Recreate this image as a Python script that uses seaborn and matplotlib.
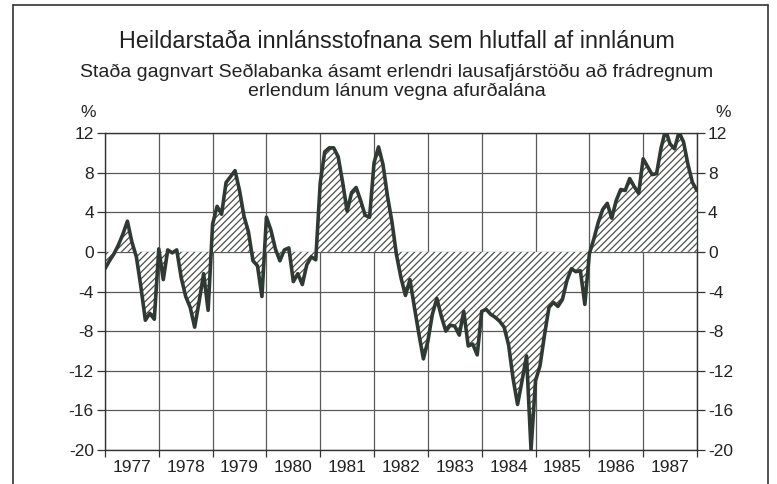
import numpy as np
import pandas as pd
import seaborn as sns
import matplotlib.pyplot as plt
from matplotlib.lines import Line2D

# monthly values, % of deposits
years = list(range(1977, 1988))
v1977 = [-1.7, -0.9, -0.2, 0.7, 1.8, 3.1, 1.0, -0.5, -3.5, -6.9, -6.2, -6.8]
v1978 = [0.3, -2.8, 0.2, -0.1, 0.2, -2.6, -4.5, -5.6, -7.6, -5.0, -2.2, -5.9]
v1979 = [2.8, 4.6, 3.8, 7.0, 7.6, 8.2, 6.2, 3.6, 2.0, -0.9, -1.4, -4.5]
v1980 = [3.5, 2.2, 0.3, -0.9, 0.2, 0.4, -3.0, -2.2, -3.3, -1.3, -0.5, -0.8]
v1981 = [7.0, 10.1, 10.5, 10.5, 9.6, 7.0, 4.1, 6.0, 6.5, 5.2, 3.7, 3.5]
v1982 = [9.0, 10.6, 8.8, 5.6, 3.0, -0.3, -2.6, -4.4, -2.8, -5.6, -8.3, -10.8]
v1983 = [-9.0, -6.3, -4.7, -6.5, -8.0, -7.4, -7.5, -8.4, -6.0, -9.5, -9.3, -10.4]
v1984 = [-6.0, -5.8, -6.3, -6.6, -7.0, -7.6, -9.4, -12.8, -15.4, -13.0, -10.5, -20.0]
v1985 = [-13.0, -11.5, -8.4, -5.6, -5.1, -5.5, -4.8, -2.9, -1.7, -2.0, -1.9, -5.3]
v1986 = [-0.2, 1.3, 3.0, 4.3, 4.9, 3.4, 5.2, 6.3, 6.2, 7.4, 6.6, 5.9]
v1987 = [9.4, 8.6, 7.8, 7.9, 10.5, 12.3, 10.9, 10.4, 12.1, 11.1, 8.8, 7.0, 6.2]

values = v1977 + v1978 + v1979 + v1980 + v1981 + v1982 + v1983 + v1984 + v1985 + v1986 + v1987
df = pd.DataFrame({'ar': 1977 + np.arange(len(values)) / 12, 'hlutfall': values})

title = 'Heildarstaða innlánsstofnana sem hlutfall af innlánum'
subtitle = ('Staða gagnvart Seðlabanka ásamt erlendri lausafjárstöðu að frádregnum\n'
            'erlendum lánum vegna afurðalána')

sns.set_style('white')
plt.rcParams['font.family'] = ['Liberation Sans', 'DejaVu Sans']
plt.rcParams['axes.unicode_minus'] = False
plt.rcParams['hatch.linewidth'] = 0.9

grid_col = '#5a5a5a'
line_col = '#2f3a35'
text_col = '#222222'

fig = plt.figure(figsize=(7.77, 4.84), dpi=100)
ax = fig.add_axes([0.1351, 0.0702, 0.7619, 0.655])

ax.fill_between(df['ar'], df['hlutfall'], 0, facecolor='white', edgecolor='#4a4f4c',
                hatch='/////', linewidth=0, zorder=2)
sns.lineplot(data=df, x='ar', y='hlutfall', color=line_col, lw=2.6, ax=ax, zorder=3)

ax.set_xlim(1977, 1988)
ax.set_ylim(-20, 12)
ax.set_yticks(range(-20, 13, 4))
ax.set_xticks(range(1977, 1989))
ax.set_xticklabels([])
ax.set_xticks(np.arange(1977.5, 1988, 1), minor=True)
ax.set_xticklabels([str(y) for y in years], minor=True)
ax.set_xlabel('')
ax.set_ylabel('')

ax.grid(True, which='major', color=grid_col, lw=0.9, zorder=1)
ax.set_axisbelow(True)
for s in ax.spines.values():
    s.set_color('#333333')
    s.set_linewidth(1.0)

ax.tick_params(axis='y', left=True, right=True, labelleft=True, labelright=True,
               direction='out', length=6, width=0.9, color='#333333',
               labelsize=12.5, labelcolor=text_col, pad=2)
ax.tick_params(axis='x', which='major', bottom=True, direction='out', length=5,
               width=0.9, color='#333333')
ax.tick_params(axis='x', which='minor', bottom=True, length=0, labelsize=12.5,
               labelcolor=text_col, pad=7)

ax.text(-0.028, 1.065, '%', transform=ax.transAxes, ha='center', va='center',
        fontsize=12.5, color=text_col)
ax.text(1.045, 1.065, '%', transform=ax.transAxes, ha='center', va='center',
        fontsize=12.5, color=text_col)

fig.text(0.511, 0.915, title, ha='center', va='center', fontsize=16.8, color=text_col)
fig.text(0.511, 0.831, subtitle, ha='center', va='center', fontsize=14,
         color=text_col, linespacing=1.12)

# outer frame of the printed figure
for xs, ys in [([0.0167, 0.0167], [0, 0.9897]), ([0.0167, 0.9884], [0.9897, 0.9897]),
               ([0.9884, 0.9884], [0, 0.9897])]:
    fig.add_artist(Line2D(xs, ys, transform=fig.transFigure, color='#333333', lw=1.2))

fig.savefig('out.png', dpi=100)
